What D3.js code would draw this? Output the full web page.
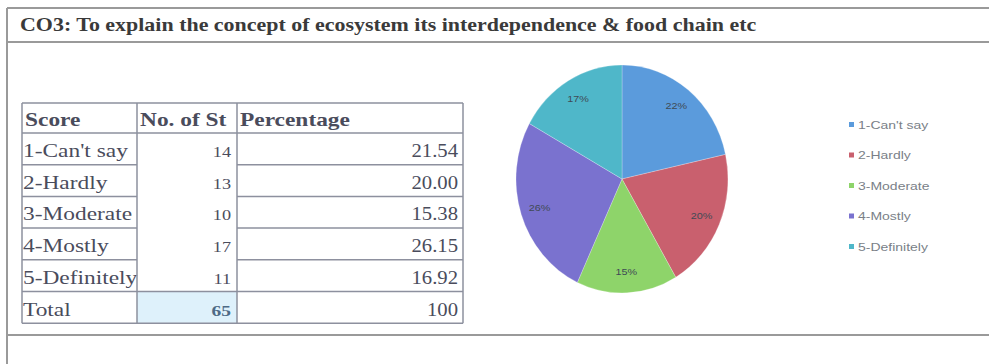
<!DOCTYPE html>
<html>
<head>
<meta charset="utf-8">
<script src="https://cdn.jsdelivr.net/npm/d3@7/dist/d3.min.js"></script>
<style>
  body { margin: 0; background: #fff; }
  svg text { font-family: "Liberation Serif", "Times New Roman", serif; }
</style>
</head>
<body>
<div id="chart"></div>
<script>
// ---- data ----
var title = "CO3: To explain the concept of ecosystem its interdependence & food chain etc";
var headers = ["Score", "No. of St", "Percentage"];
var scores = ["1-Can't say", "2-Hardly", "3-Moderate", "4-Mostly", "5-Definitely"];
var counts = [14, 13, 10, 17, 11];
var percents = ["21.54", "20.00", "15.38", "26.15", "16.92"];
var totalRow = ["Total", "65", "100"];
var sliceColors = ["#5b9bdc", "#c9606e", "#8ed46a", "#7a72cf", "#4fb7c9"];

var w = 989, h = 364;

var svg = d3.select("#chart").append("svg")
  .attr("width", w)
  .attr("height", h);

// the scan is stretched sideways, so text gets a horizontal scale
function stext(g, x, y, str, anchor, sx) {
  return g.append("text")
    .attr("transform", "translate(" + x + "," + y + ") scale(" + (sx || 1.3) + ",1)")
    .attr("text-anchor", anchor || "start")
    .text(str);
}

// ---- outer frame ----
var frame = svg.append("g").attr("stroke", "#9a9a9a").attr("stroke-width", 2);
frame.append("line").attr("x1", 7).attr("x2", w).attr("y1", 8).attr("y2", 8);
frame.append("line").attr("x1", 7).attr("x2", w).attr("y1", 42).attr("y2", 42);
frame.append("line").attr("x1", 7).attr("x2", w).attr("y1", 335).attr("y2", 335);
frame.append("line").attr("x1", 7).attr("x2", 7).attr("y1", 8).attr("y2", h);

stext(svg, 20, 31, title, "start", 1.22)
  .style("font-weight", "bold")
  .style("font-size", "18px")
  .attr("fill", "#3a3a3a");

// ---- table ----
var colEdges = [22, 137, 237, 463];
var tableTop = 103, headerH = 30, rowH = 31.7;
var rowY = d3.scaleLinear().domain([0, 1]).range([tableTop + headerH, tableTop + headerH + rowH]);
var nRows = scores.length + 1;

var table = svg.append("g");

// highlighted total count cell
table.append("rect")
  .attr("x", colEdges[1]).attr("y", rowY(nRows - 1))
  .attr("width", colEdges[2] - colEdges[1]).attr("height", rowH)
  .attr("fill", "#def1fb");

var tText = table.append("g").attr("fill", "#4a4c5c").style("font-size", "18px");
stext(tText, colEdges[0] + 3, tableTop + 23, headers[0]).style("font-weight", "bold");
stext(tText, colEdges[1] + 3, tableTop + 23, headers[1]).style("font-weight", "bold");
stext(tText, colEdges[2] + 3, tableTop + 23, headers[2]).style("font-weight", "bold");

var rows = scores.map(function(s, i) { return [s, String(counts[i]), percents[i]]; }).concat([totalRow]);
rows.forEach(function(r, i) {
  var by = rowY(i) + 24;
  var last = i === nRows - 1;
  stext(tText, colEdges[0] + 1, by, r[0]);
  stext(tText, colEdges[2] - 6, by, r[1], "end").style("font-size", last ? "15px" : "14px")
    .style("font-weight", last ? "bold" : "normal")
    .attr("fill", last ? "#4d6a86" : "#4a4c5c");
  stext(tText, colEdges[3] - 5, by, r[2], "end", 1.15);
});

var grid = table.append("g").attr("stroke", "#8d909e").attr("stroke-width", 1.5);
// horizontal lines (the count column has no inner row borders)
var hLines = [tableTop].concat(d3.range(nRows + 1).map(function(i) { return rowY(i); }));
hLines.forEach(function(y, k) {
  var full = (k <= 1 || k >= hLines.length - 2);
  if (full) {
    grid.append("line").attr("x1", colEdges[0]).attr("x2", colEdges[3]).attr("y1", y).attr("y2", y);
  } else {
    grid.append("line").attr("x1", colEdges[0]).attr("x2", colEdges[1]).attr("y1", y).attr("y2", y);
    grid.append("line").attr("x1", colEdges[2]).attr("x2", colEdges[3]).attr("y1", y).attr("y2", y);
  }
});
colEdges.forEach(function(x) {
  grid.append("line").attr("x1", x).attr("x2", x).attr("y1", tableTop).attr("y2", rowY(nRows));
});

// ---- pie ----
var cx = 622, cy = 179, rx = 106, ry = 114, R = 110;
var pie = d3.pie().sort(null).value(function(d) { return d; });
var arcs = pie(counts);
var arc = d3.arc().innerRadius(0).outerRadius(R);
var total = d3.sum(counts);

var pieG = svg.append("g")
  .attr("transform", "translate(" + cx + "," + cy + ") scale(" + (rx / R) + "," + (ry / R) + ")");
pieG.selectAll("path")
  .data(arcs)
  .enter().append("path")
  .attr("d", arc)
  .attr("fill", function(d, i) { return sliceColors[i]; })
  .attr("stroke", "#ffffff")
  .attr("stroke-opacity", 0.4)
  .attr("stroke-width", 0.6);

var labelArc = d3.arc().innerRadius(82).outerRadius(98);
var labG = svg.append("g").attr("fill", "#3f4a55").style("font-size", "9px");
arcs.forEach(function(d) {
  var c = labelArc.centroid(d);
  stext(labG, cx + c[0] * rx / R, cy + c[1] * ry / R + 3, Math.round(d.value / total * 100) + "%", "middle", 1.2)
    .style("font-family", "Liberation Sans, Arial, sans-serif");
});

// ---- legend ----
var legY = d3.scalePoint().domain(scores).range([125, 247]);
var leg = svg.append("g");
scores.forEach(function(s, i) {
  leg.append("rect")
    .attr("x", 849).attr("y", legY(s) - 3)
    .attr("width", 5).attr("height", 5)
    .attr("fill", sliceColors[i]);
  stext(leg, 858, legY(s) + 3.5, s, "start", 1.4)
    .style("font-family", "Liberation Sans, Arial, sans-serif")
    .style("font-size", "10px")
    .attr("fill", "#7a7f88");
});
</script>
</body>
</html>
